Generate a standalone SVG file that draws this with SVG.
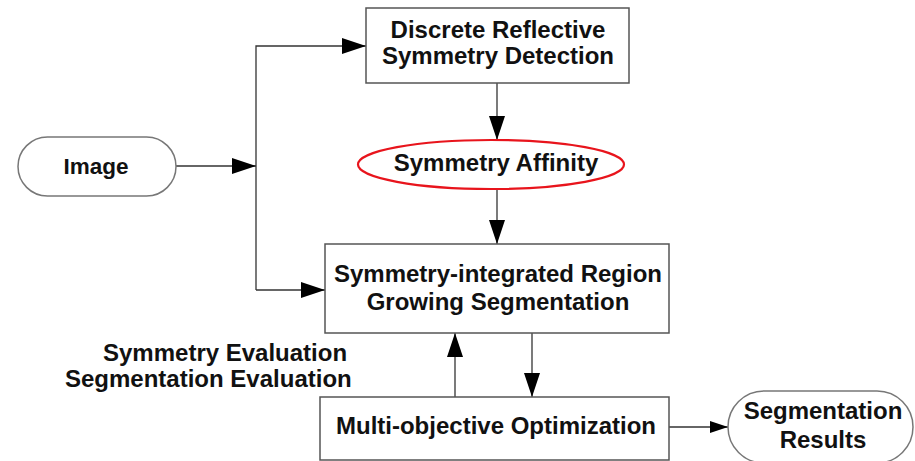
<svg xmlns="http://www.w3.org/2000/svg" width="915" height="461" viewBox="0 0 915 461">
<defs>
<style>
.box{fill:#fff;stroke:#555;stroke-width:1.5}
.pill{fill:#fff;stroke:#777;stroke-width:1.5}
.red{fill:#fff;stroke:#e8141c;stroke-width:2.2}
.t{font-family:"Liberation Sans",Arial,sans-serif;font-weight:bold;font-size:24px;fill:#111;text-anchor:middle}
.tl{font-family:"Liberation Sans",Arial,sans-serif;font-weight:bold;font-size:24px;fill:#111}
.c{fill:none;stroke:#333;stroke-width:1.3}
</style>
<marker id="ah" viewBox="0 0 24 16" refX="24" refY="8" markerWidth="24" markerHeight="16" markerUnits="userSpaceOnUse" orient="auto">
<path d="M0,0 L24,8 L0,16 Z" fill="#000"/>
</marker>
<marker id="ahs" viewBox="0 0 18 12" refX="18" refY="6" markerWidth="18" markerHeight="12" markerUnits="userSpaceOnUse" orient="auto">
<path d="M0,0 L18,6 L0,12 Z" fill="#000"/>
</marker>
</defs>
<rect width="915" height="461" fill="#fff"/>
<g id="connectors">
<path class="c" d="M176,166 L256,166" marker-end="url(#ah)"/>
<path class="c" d="M256,290 L256,46 L366,46" marker-end="url(#ah)"/>
<path class="c" d="M256,290 L325,290" marker-end="url(#ah)"/>
<path class="c" d="M497,83 L497,140" marker-end="url(#ah)"/>
<path class="c" d="M497,189 L497,244" marker-end="url(#ah)"/>
<path class="c" d="M532,333 L532,397" marker-end="url(#ah)"/>
<path class="c" d="M455,397 L455,333" marker-end="url(#ah)"/>
<path class="c" d="M669,427 L728,427" marker-end="url(#ahs)"/>
</g>
<g id="image">
<rect class="pill" x="18" y="137" width="158" height="59" rx="29.5"/>
<text class="t" x="96" y="174" style="font-size:22.5px">Image</text>
</g>
<g id="detection">
<rect class="box" x="366" y="8" width="263" height="75"/>
<text class="t" x="498" y="38">Discrete Reflective</text>
<text class="t" x="498" y="64">Symmetry Detection</text>
</g>
<g id="affinity">
<ellipse class="red" cx="491" cy="164.5" rx="133" ry="24.5"/>
<text class="t" x="496" y="171">Symmetry Affinity</text>
</g>
<g id="region">
<rect class="box" x="325" y="244" width="344" height="89"/>
<text class="t" x="498" y="282">Symmetry-integrated Region</text>
<text class="t" x="498" y="310">Growing Segmentation</text>
</g>
<g id="evaluation">
<text class="tl" x="103" y="361">Symmetry Evaluation</text>
<text class="tl" x="65" y="387">Segmentation Evaluation</text>
</g>
<g id="optimization">
<rect class="box" x="320" y="397" width="349" height="63"/>
<text class="t" x="496" y="434">Multi-objective Optimization</text>
</g>
<g id="results">
<rect class="pill" x="728" y="391" width="185" height="72" rx="36"/>
<text class="t" x="823" y="419">Segmentation</text>
<text class="t" x="823" y="448">Results</text>
</g>
</svg>
